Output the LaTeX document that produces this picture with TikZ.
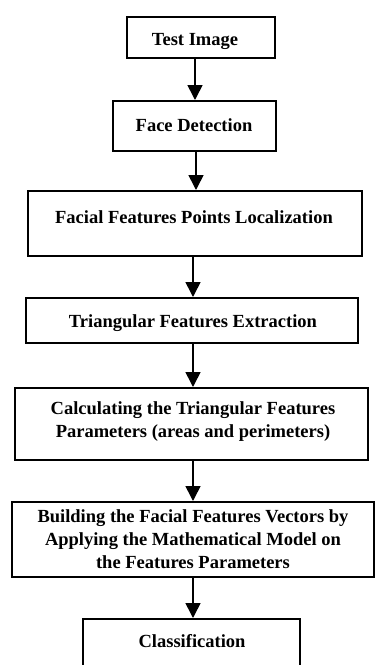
\documentclass[tikz,border=0pt]{standalone}
\usepackage{fontspec}
\setmainfont{Liberation Serif}
\usetikzlibrary{arrows.meta}
\tikzset{
  stagebox/.style={draw=black, line width=2pt, fill=white, inner sep=0pt},
  stagetext/.style={font=\fontsize{18.5}{23}\selectfont\bfseries, align=center, inner sep=0pt, anchor=base},
  flow/.style={line width=1.6pt, -{Triangle[length=15pt,width=15pt]}}
}
\begin{document}
\begin{tikzpicture}[x=1pt,y=-1pt]
  \useasboundingbox (0,0) rectangle (376,665);
  \clip (0,0) rectangle (376,665);

  % boxes of the pipeline
  \node[stagebox, minimum width=148pt, minimum height=41pt] (b1) at (201,37.5) {};
  \node[stagebox, minimum width=163pt, minimum height=50pt] (b2) at (194.5,126) {};
  \node[stagebox, minimum width=334pt, minimum height=65pt] (b3) at (195,223.5) {};
  \node[stagebox, minimum width=332pt, minimum height=45pt] (b4) at (192,320.5) {};
  \node[stagebox, minimum width=353pt, minimum height=72pt] (b5) at (191.5,424) {};
  \node[stagebox, minimum width=362pt, minimum height=75pt] (b6) at (193,539.5) {};
  \node[stagebox, minimum width=217pt, minimum height=90pt] (b7) at (191.5,664) {};

  % connectors
  \draw[flow] (b1.south -| 195,0) -- (b2.north -| 195,0);
  \draw[flow] (b2.south -| 196,0) -- (b3.north -| 196,0);
  \draw[flow] (b3.south -| 193,0) -- (b4.north -| 193,0);
  \draw[flow] (b4.south -| 193,0) -- (b5.north -| 193,0);
  \draw[flow] (b5.south -| 193,0) -- (b6.north -| 193,0);
  \draw[flow] (b6.south -| 193,0) -- (b7.north -| 193,0);

  % captions (base anchor sits on the last line)
  \node[stagetext] (t1) at (195,45) {Test Image};
  \node[stagetext] (t2) at (194,131) {Face Detection};
  \node[stagetext] (t3) at (194,223) {Facial Features Points Localization};
  \node[stagetext] (t4) at (193,327) {Triangular Features Extraction};
  \node[stagetext] (t5) at (193,437) {Calculating the Triangular Features\\Parameters (areas and perimeters)};
  \node[stagetext] (t6) at (193,568) {Building the Facial Features Vectors by\\Applying the Mathematical Model on\\the Features Parameters};
  \node[stagetext] (t7) at (192,647) {Classification};
\end{tikzpicture}
\end{document}
